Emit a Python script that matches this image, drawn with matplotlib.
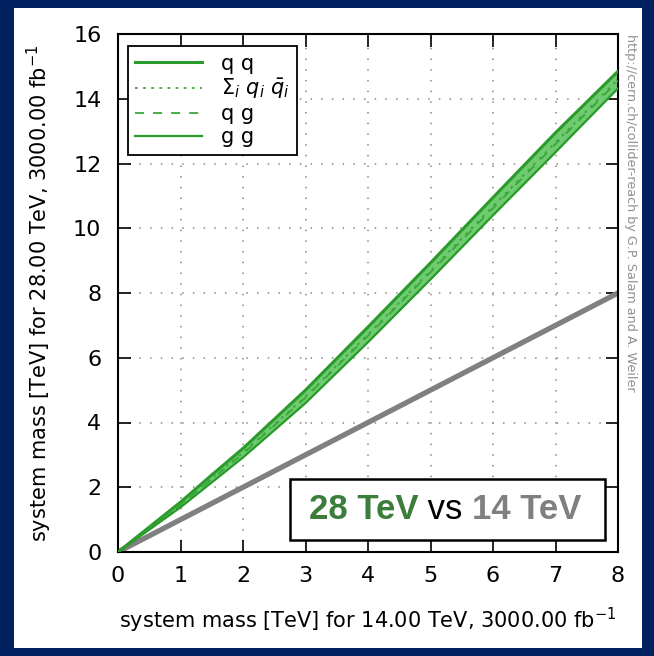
import matplotlib
matplotlib.use("Agg")
import matplotlib.pyplot as plt
from matplotlib.patches import Rectangle
from matplotlib.lines import Line2D

# masses at 14 TeV and the matching reach at 28 TeV
mass14 = [0, 0.5, 1, 1.5, 2, 3, 4, 5, 6, 7, 8]
qq = [0, 0.77, 1.54, 2.38, 3.2, 5.0, 6.95, 8.93, 10.95, 12.95, 14.85]
qqbar = [0, 0.73, 1.47, 2.27, 3.07, 4.8, 6.72, 8.68, 10.68, 12.65, 14.6]
qg = [0, 0.72, 1.45, 2.25, 3.04, 4.77, 6.68, 8.64, 10.62, 12.6, 14.55]
gg = [0, 0.69, 1.38, 2.15, 2.92, 4.6, 6.48, 8.42, 10.4, 12.35, 14.32]
same_mass = [0, 8]

xticks = [0, 1, 2, 3, 4, 5, 6, 7, 8]
yticks = [0, 2, 4, 6, 8, 10, 12, 14, 16]

navy = "#00205f"
dark_green = "#2a9a2a"
light_green = "#6fcb6f"

fig = plt.figure(figsize=(6.54, 6.56), dpi=100, facecolor=navy)
fig.patches.append(Rectangle((14 / 654, 1 - 648 / 656), 628 / 654, 640 / 656,
                             transform=fig.transFigure, facecolor="white",
                             edgecolor="none", zorder=-10))

ax = fig.add_axes([118 / 654, 1 - 552 / 656, 500 / 654, 518 / 656])
ax.set_facecolor("white")

# band between the channels
ax.fill_between(mass14, gg, qq, color=light_green, lw=0, zorder=2)
ax.plot(mass14, qq, color=dark_green, lw=2.2, zorder=3)
ax.plot(mass14, qqbar, color="#3aa83a", lw=1.3, ls=(0, (1.5, 3)), zorder=3)
ax.plot(mass14, qg, color="#3aa83a", lw=1.3, ls=(0, (5, 5)), zorder=3)
ax.plot(mass14, gg, color=dark_green, lw=1.6, zorder=3)
ax.plot(same_mass, same_mass, color="#808080", lw=3.8, zorder=2,
        solid_capstyle="butt")

ax.set_xlim(0, 8)
ax.set_ylim(0, 16)
ax.set_xticks(xticks)
ax.set_yticks(yticks)
ax.tick_params(direction="in", length=9, width=1.2, top=True, right=True,
               labelsize=16, colors="black")
ax.tick_params(axis="x", pad=10)
ax.tick_params(axis="y", pad=12)
ax.grid(True, color="#888888", ls=(0, (1, 6)), lw=1.1)
for s in ax.spines.values():
    s.set_linewidth(1.5)

ax.set_xlabel("system mass [TeV] for 14.00 TeV, 3000.00 fb$^{-1}$",
              fontsize=15, labelpad=14)
ax.set_ylabel("system mass [TeV] for 28.00 TeV, 3000.00 fb$^{-1}$",
              fontsize=15, labelpad=14)

handles = [
    Line2D([], [], color=dark_green, lw=2.2),
    Line2D([], [], color="#3aa83a", lw=1.3, ls=(0, (1.5, 3))),
    Line2D([], [], color="#3aa83a", lw=1.3, ls=(0, (5, 5))),
    Line2D([], [], color=dark_green, lw=1.6),
]
labels = ["q q", r"$\Sigma_i\ q_i\ \bar{q}_i$", "q g", "g g"]
leg = ax.legend(handles, labels, loc="upper left", fontsize=15,
                bbox_to_anchor=(0.02, 0.976), borderaxespad=0,
                handlelength=3.2, handletextpad=0.9, labelspacing=0.15,
                borderpad=0.35, fancybox=False,
                framealpha=1, edgecolor="black")
leg.get_frame().set_linewidth(1.3)

# the "28 TeV vs 14 TeV" box
ax.add_patch(Rectangle((2.75, 0.36), 5.04, 1.9, facecolor="white",
                       edgecolor="black", lw=1.8, zorder=5))
t1 = ax.text(3.05, 1.3, "28 TeV", color="#3b7d3b", fontsize=25,
             fontweight="bold", family="Liberation Sans", va="center",
             zorder=6)
t2 = ax.annotate(" vs ", xy=(1, 0), xycoords=t1, va="bottom", fontsize=25,
                 family="Liberation Sans", color="black", zorder=6)
ax.annotate("14 TeV", xy=(1, 0), xycoords=t2, va="bottom", fontsize=25,
            fontweight="bold", family="Liberation Sans", color="#808080",
            zorder=6)

fig.text(630 / 654, 1 - 34 / 656,
         "http://cern.ch/collider-reach by G.P. Salam and A. Weiler",
         rotation=-90, va="top", ha="center", fontsize=9.2, color="#909090")

fig.savefig("out.png", dpi=100, facecolor=navy)
